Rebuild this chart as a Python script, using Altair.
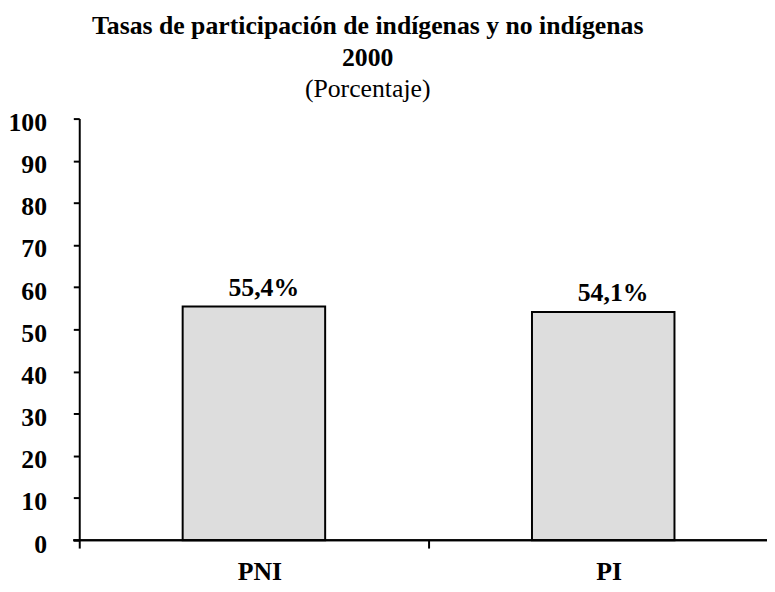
import altair as alt
import pandas as pd

categories = ["PNI", "PI"]
values = [55.4, 54.1]
value_labels = ["55,4%", "54,1%"]
y_ticks = [0, 10, 20, 30, 40, 50, 60, 70, 80, 90, 100]

title_lines = ["Tasas de participación de indígenas y no indígenas", "2000"]
subtitle = "(Porcentaje)"

df = pd.DataFrame({"cat": categories, "val": values, "lab": value_labels})

FONT = "Liberation Serif"
W, H = 695, 426

x_enc = alt.X(
    "cat:N",
    sort=categories,
    scale=alt.Scale(range=[0, 706], paddingInner=0, paddingOuter=0),
    axis=alt.Axis(title=None, labels=False, bandPosition=0, domain=False,
                  tickSize=8, tickWidth=2, tickColor="black"),
)
y_enc = alt.Y(
    "val:Q",
    scale=alt.Scale(domain=[0, 100], nice=False),
    axis=alt.Axis(values=y_ticks, title=None, grid=False, tickSize=6, tickWidth=2,
                  tickColor="black", domainColor="black", domainWidth=2,
                  labelFont=FONT, labelFontSize=26, labelFontWeight="bold",
                  labelColor="black", labelPadding=27, labelOffset=4),
)

base = alt.Chart(df)

bars = base.mark_bar(size=144, fill="#DDDDDD", stroke="black", strokeWidth=2).encode(
    x=x_enc, y=y_enc
)

vlabels = base.mark_text(font=FONT, fontSize=26, fontWeight="bold", color="black",
                         baseline="alphabetic", dy=-11, dx=10).encode(
    x=alt.X("cat:N", sort=categories), y="val:Q", text="lab:N"
)

clabels = base.mark_text(font=FONT, fontSize=26, fontWeight="bold", color="black",
                         baseline="alphabetic", dx=6).encode(
    x=alt.X("cat:N", sort=categories), y=alt.value(H + 40), text="cat:N"
)

xaxis_line = base.mark_rule(color="black", strokeWidth=2).encode(
    x=alt.value(-6), x2=alt.value(720), y=alt.value(H)
)

chart = alt.layer(bars, xaxis_line, vlabels, clabels).properties(
    width=W, height=H,
    title=alt.Title(
        title_lines, subtitle=subtitle,
        font=FONT, fontSize=26, fontWeight="bold", color="black",
        subtitleFont=FONT, subtitleFontSize=26, subtitleFontWeight="normal",
        subtitleColor="black", anchor="middle", dx=-56, offset=8,
        lineHeight=32, subtitlePadding=5, subtitleLineHeight=28,
    ),
    autosize=alt.AutoSizeParams(type="none"),
    padding={"left": 72, "top": 108.7, "right": 0, "bottom": 47},
).configure_view(stroke=None)

chart.save("out.html", embed_options={"renderer": "svg", "actions": False})
